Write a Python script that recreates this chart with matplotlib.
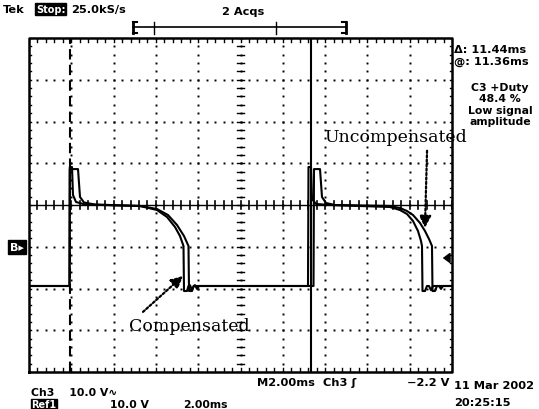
import numpy as np
import matplotlib
matplotlib.use("Agg")
import matplotlib.pyplot as plt

# ---- data: time (ms) and voltage (V, 10 V/div, relative to screen centre) ----
comp_t = [0, 1.915, 1.929, 2.033, 2.080, 2.222, 2.648, 5.248, 6.052, 6.525, 6.903, 7.139,
          7.305, 7.329, 7.470, 7.541, 7.612, 7.707, 7.801, 13.191, 13.215, 13.333, 13.381,
          13.570, 14.232, 17.068, 17.541, 17.872, 18.156, 18.392, 18.534, 18.581, 18.605,
          18.723, 18.818, 18.912, 19.007, 19.102, 20]
comp_v = [-19.4, -19.4, 9.1, 9.1, 2.4, 0.72, 0.12, -0.24, -1.20, -2.87, -5.27, -7.43,
          -9.82, -20.6, -20.6, -19.4, -19.2, -20.4, -19.4, -19.4, 9.1, 9.1, 1.44,
          0.24, 0.0, -0.48, -1.20, -2.16, -3.83, -6.23, -8.62, -9.82, -20.6,
          -20.6, -19.4, -19.4, -20.4, -19.4, -19.4]

unc_t = [0, 1.915, 1.929, 2.317, 2.411, 2.600, 3.121, 5.248, 6.052, 6.572, 6.998, 7.329,
         7.541, 7.565, 7.707, 7.778, 7.849, 7.943, 8.038, 13.452, 13.475, 13.759, 13.853,
         14.042, 14.468, 17.068, 17.541, 17.872, 18.156, 18.487, 18.723, 18.912, 19.054,
         19.078, 19.196, 19.291, 19.385, 19.480, 19.574, 20]
unc_v = [-19.4, -19.4, 8.6, 8.6, 1.92, 0.60, 0.12, -0.24, -0.96, -2.40, -4.79, -7.43,
         -9.82, -20.6, -20.6, -19.4, -19.2, -20.1, -19.4, -19.4, 8.6, 8.6, 1.92,
         0.48, 0.0, -0.24, -0.72, -1.44, -2.40, -4.31, -6.23, -8.14, -9.82,
         -20.6, -20.6, -19.4, -19.4, -20.1, -19.4, -19.4]

cursor1_ms = 1.915
cursor_delta_ms = 11.44

top_left = ["Tek", "Stop:", "25.0kS/s"]
acqs_label = "2 Acqs"
readouts = ["Δ: 11.44ms", "@: 11.36ms"]
measure = ["C3 +Duty", "48.4 %", "Low signal", "amplitude"]
bottom_labels = ["M2.00ms  Ch3 \u0283", "\u22122.2 V", "11 Mar 2002", "20:25:15",
                 "Ch3    10.0 V\u223f", "Ref1", "10.0 V", "2.00ms"]

# ---- figure ----
W, H = 539, 410
fig = plt.figure(figsize=(W / 100, H / 100), dpi=100)
fig.patch.set_facecolor("white")
ax = fig.add_axes([29 / W, 37 / H, 423 / W, 334 / H])
ax.set_xlim(0, 20)
ax.set_ylim(-40, 40)
ax.axis("off")

def P(x, y):
    return (x / W, 1 - y / H)

# graticule: dotted grid
xdiv = np.arange(0, 20.01, 2)
ydiv = np.arange(-40, 40.01, 10)
xs_f = np.arange(0, 20.001, 0.4)
ys_f = np.arange(-40, 40.001, 2)
for xv in xdiv[1:-1]:
    if abs(xv - 10) < 1e-6:
        continue
    ax.plot(np.full_like(ys_f, xv), ys_f, ls="none", marker="s", ms=1.4, color="black", mew=0)
for yv in ydiv[1:-1]:
    if abs(yv) < 1e-6:
        continue
    ax.plot(xs_f, np.full_like(xs_f, yv), ls="none", marker="s", ms=1.4, color="black", mew=0)

# centre cross with ticks
ax.plot([0, 20], [0, 0], color="black", lw=1.0)
ax.plot(np.full_like(ys_f, 10), ys_f, ls="none", marker="s", ms=1.4, color="black", mew=0)
for xv in xs_f:
    ax.plot([xv, xv], [-1.0, 1.0], color="black", lw=1.2)
for yv in ys_f:
    ax.plot([9.82, 10.18], [yv, yv], color="black", lw=1.0)

# border with inward ticks
ax.plot([0, 20, 20, 0, 0], [-40, -40, 40, 40, -40], color="black", lw=1.8, clip_on=False)
for xv in xs_f:
    ax.plot([xv, xv], [40, 39.0], color="black", lw=1.0)
    ax.plot([xv, xv], [-40, -39.0], color="black", lw=1.0)
for yv in ys_f:
    ax.plot([0, 0.09], [yv, yv], color="black", lw=1.0)
    ax.plot([20, 19.91], [yv, yv], color="black", lw=1.0)

# cursors
ax.plot([cursor1_ms, cursor1_ms], [-40, 40], color="black", lw=1.5, ls=(0, (5, 2.5)))
c2 = cursor1_ms + cursor_delta_ms
ax.plot([c2, c2], [-40, 40], color="black", lw=1.5)

# traces
ax.plot(unc_t, unc_v, color="black", lw=1.5, solid_joinstyle="round")
ax.plot(comp_t, comp_v, color="black", lw=1.5, solid_joinstyle="round")

# annotations
ax.annotate("", xy=(7.28, -17.0), xytext=(5.39, -25.6),
            arrowprops=dict(arrowstyle="-|>,head_length=0.7,head_width=0.35", lw=1.6,
                            ls=(0, (1, 1)), color="black", shrinkA=0, shrinkB=0))
ax.text(7.6, -28.8, "Compensated", family="DejaVu Serif", fontsize=12.5,
        ha="center", va="center")
ax.annotate("", xy=(18.72, -5.5), xytext=(18.82, 13.0),
            arrowprops=dict(arrowstyle="-|>,head_length=0.7,head_width=0.35", lw=1.6,
                            ls=(0, (1, 1)), color="black", shrinkA=0, shrinkB=0))
ax.text(17.35, 16.4, "Uncompensated", family="DejaVu Serif", fontsize=12.5,
        ha="center", va="center", clip_on=False)

# header texts
bold = dict(family="DejaVu Sans", weight="bold", fontsize=8.2)
fig.text(*P(3, 10), top_left[0], ha="left", va="center", **bold)
fig.text(*P(36, 10), top_left[1], ha="left", va="center", color="white",
         bbox=dict(boxstyle="square,pad=0.08", fc="black", ec="black"),
         family="DejaVu Sans", weight="bold", fontsize=7.0)
fig.text(*P(71, 10), top_left[2], ha="left", va="center", **bold)
fig.text(*P(243, 12), acqs_label, ha="center", va="center", **bold)

# record bracket
fig.add_artist(plt.Line2D([133 / W, 346 / W], [1 - 28 / H, 1 - 28 / H], color="black", lw=1.2))
for xb in (133, 346):
    fig.add_artist(plt.Line2D([xb / W, xb / W], [1 - 23 / H, 1 - 34 / H], color="black", lw=2))
fig.add_artist(plt.Line2D([133 / W, 137 / W], [1 - 23 / H, 1 - 23 / H], color="black", lw=1.5))
fig.add_artist(plt.Line2D([133 / W, 137 / W], [1 - 34 / H, 1 - 34 / H], color="black", lw=1.5))
fig.add_artist(plt.Line2D([342 / W, 346 / W], [1 - 23 / H, 1 - 23 / H], color="black", lw=1.5))
fig.add_artist(plt.Line2D([342 / W, 346 / W], [1 - 34 / H, 1 - 34 / H], color="black", lw=1.5))
for xb in (154, 276):
    fig.add_artist(plt.Line2D([xb / W, xb / W], [1 - 23 / H, 1 - 35 / H], color="black", lw=1.0))

# right readouts
fig.text(*P(454, 50), readouts[0], ha="left", va="center", **bold)
fig.text(*P(454, 62), readouts[1], ha="left", va="center", **bold)
meas = dict(family="DejaVu Sans", weight="bold", fontsize=7.8)
for i, s in enumerate(measure):
    fig.text(*P(500, 88 + i * 11.3), s, ha="center", va="center", **meas)

# ground marker at left
fig.text(*P(17, 248), "B\u25b8", ha="center", va="center", color="white",
         bbox=dict(boxstyle="square,pad=0.15", fc="black", ec="black"),
         family="DejaVu Sans", weight="bold", fontsize=8)

# trigger level arrow at right
fig.add_artist(matplotlib.patches.FancyArrowPatch(P(450, 259), P(440, 259),
               arrowstyle="-|>,head_length=4,head_width=3", lw=1.3, color="black",
               transform=fig.transFigure))

# bottom texts
fig.text(*P(257, 383), bottom_labels[0], ha="left", va="center", **bold)
fig.text(*P(449, 383), bottom_labels[1], ha="right", va="center", **bold)
fig.text(*P(454, 386), bottom_labels[2], ha="left", va="center", **bold)
fig.text(*P(454, 403), bottom_labels[3], ha="left", va="center", **bold)
fig.text(*P(31, 393), bottom_labels[4], ha="left", va="center", **meas)
fig.text(*P(31, 405.5), bottom_labels[5], ha="left", va="center", color="white",
         bbox=dict(boxstyle="square,pad=0.05", fc="black", ec="black"),
         family="DejaVu Sans", weight="bold", fontsize=7.0)
fig.text(*P(110, 405), bottom_labels[6], ha="left", va="center", **meas)
fig.text(*P(183, 405), bottom_labels[7], ha="left", va="center", **meas)

fig.savefig("out.png", dpi=100, facecolor="white")
